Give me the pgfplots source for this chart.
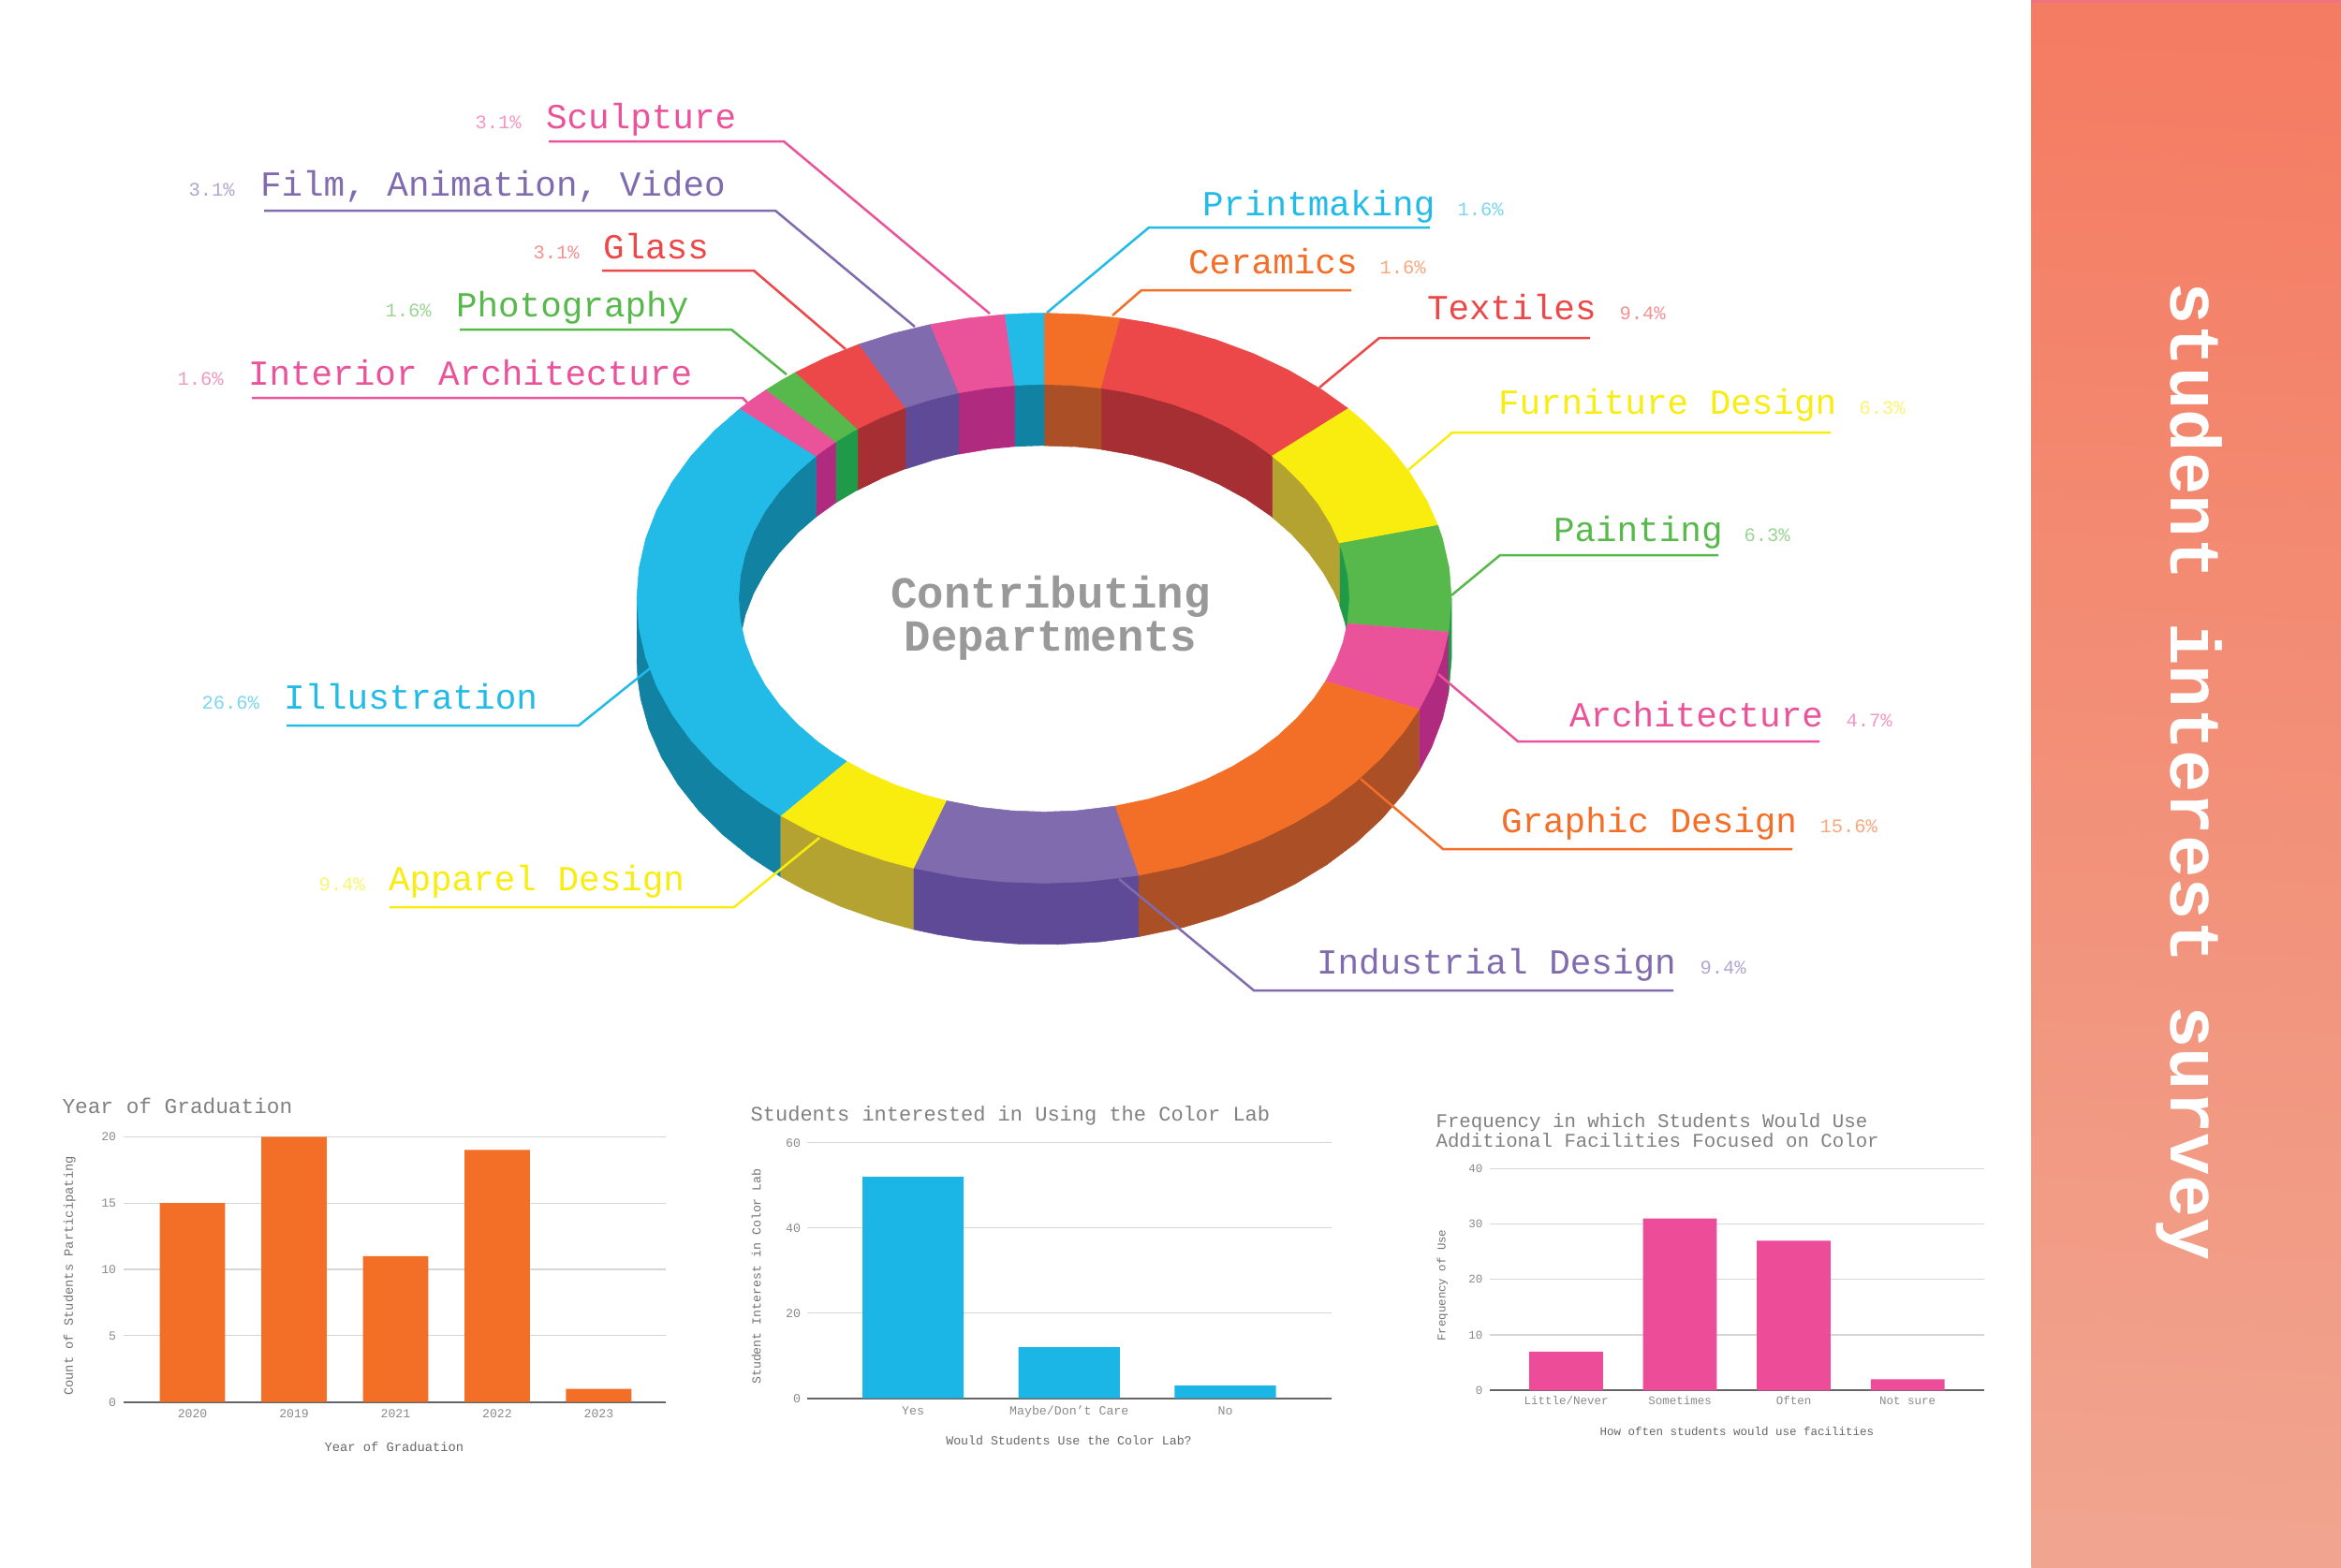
\documentclass[border=0pt]{standalone}
\usepackage{fontspec}
\setmainfont{Liberation Mono}
\usepackage{pgfplots}
\pgfplotsset{compat=1.18}

% 1 px of the reference = 0.4pt here
\definecolor{cOrange}{HTML}{F36E27}\definecolor{wOrange}{HTML}{AA4F26}
\definecolor{cRed}{HTML}{EC4849}\definecolor{wRed}{HTML}{A62F33}
\definecolor{cYellow}{HTML}{F9ED10}\definecolor{wYellow}{HTML}{B4A331}
\definecolor{cGreen}{HTML}{57B94B}\definecolor{wGreen}{HTML}{1F9A48}
\definecolor{cPink}{HTML}{EA539A}\definecolor{wPink}{HTML}{B02A80}
\definecolor{cPurple}{HTML}{806BAF}\definecolor{wPurple}{HTML}{5E4A97}
\definecolor{cBlue}{HTML}{22BBE7}\definecolor{wBlue}{HTML}{1282A2}
\definecolor{barBlue}{HTML}{1BB6E6}\definecolor{barPink}{HTML}{ED4C98}
\definecolor{titleGray}{HTML}{808080}\definecolor{tickGray}{HTML}{8A8A8A}
\definecolor{panelTop}{HTML}{F47C62}\definecolor{panelMid}{HTML}{F38E78}\definecolor{panelBot}{HTML}{F1A48F}
\definecolor{panelEdge}{HTML}{EE7280}

% ring: top face slices are (angle,radius), side walls are angle radius depth
\newcommand\face[2]{\addplot[fill=#1,draw=#1,line width=.2pt,data cs=polar] coordinates {#2};}
\newcommand\wall[2]{\addplot[fill=#1,draw=#1,line width=.2pt] table[row sep=\\,
  x expr={\thisrow{r}*cos(\thisrow{a})},y expr={\thisrow{r}*sin(\thisrow{a})-\thisrow{z}}] {a r z\\ #2};}

% department label: colour, name, x, baseline, percent, percent x
\newcommand\dept[6]{%
  \node[anchor=base west,inner sep=0,text=#1,font=\fontsize{15.05}{16}\selectfont] at (axis cs:#3,#4) {#2};
  \node[anchor=base west,inner sep=0,text=#1!60!white,font=\fontsize{8.2}{9}\selectfont] at (axis cs:#6,#4) {#5\%};}
\newcommand\leader[2]{\addplot[color=#1,line width=1pt] coordinates {#2};}

\pgfplotsset{barchart/.style={
  scale only axis, ybar, bar shift=0pt, ymin=0,
  axis lines=left, axis line style={-},
  y axis line style={draw=none}, x axis line style={draw=black!60,line width=.8pt},
  major tick length=0pt, xtick=data,
  ymajorgrids, grid style={black!16,line width=.5pt},
  /pgf/number format/assume math mode=true,
  tick label style={inner sep=0pt,text=tickGray},
  xticklabel style={text height=4pt},
  every axis title shift=0pt,
  title style={anchor=base west,inner sep=0pt,text=titleGray},
  xlabel style={anchor=base,inner sep=0pt,text=black!60},
  ylabel style={anchor=base,inner sep=0pt,text=black!55},
}}

\begin{document}
\begin{tikzpicture}
\path[use as bounding box,fill=white] (0pt,0pt) rectangle (1000pt,669.6pt);

% side panel
\begin{axis}[at={(0pt,0pt)},anchor=south west,scale only axis,width=1000pt,height=669.6pt,
  xmin=0,xmax=2500,ymin=0,ymax=1674,y dir=reverse,hide axis,clip=false]
\addplot[draw=none,top color=panelTop,middle color=panelMid,bottom color=panelBot,shading angle=-3] coordinates {(2169.3,0)(2500,0)(2500,1674)(2169.3,1674)};
\addplot[draw=none,fill=panelEdge] coordinates {(2169.3,0)(2500,0)(2500,3)(2169.3,3)};
\end{axis}

% ring
\begin{axis}[at={(272pt,255.66pt)},anchor=south west,scale only axis,width=348pt,height=292.32pt,
  xmin=-1,xmax=1,ymin=-1.3,ymax=1.1,hide axis,clip=false]
% outer walls
\wall{wBlue}{180 1 0\\ 229.7 1 0\\ 229.7 1 .215\\ 224 1 .215\\ 218 1 .215\\ 212 1 .215\\ 206 1 .215\\ 200 1 .215\\ 194 1 .215\\ 188 1 .215\\ 184 1 .215\\ 180 1 .215\\}
\wall{wYellow}{229.7 1 0\\ 251.3 1 0\\ 251.3 1 .215\\ 246 1 .215\\ 240 1 .215\\ 234 1 .215\\ 229.7 1 .215\\}
\wall{wPurple}{251.3 1 0\\ 283.4 1 0\\ 283.4 1 .215\\ 278 1 .215\\ 272 1 .215\\ 266 1 .215\\ 260 1 .215\\ 255 1 .215\\ 251.3 1 .215\\}
\wall{wOrange}{283.4 1 0\\ 337.1 1 0\\ 337.1 1 .215\\ 332 1 .215\\ 326 1 .215\\ 320 1 .215\\ 314 1 .215\\ 308 1 .215\\ 302 1 .215\\ 296 1 .215\\ 290 1 .215\\ 283.4 1 .215\\}
\wall{wPink}{337.1 1 0\\ 353.2 1 0\\ 353.2 1 .215\\ 348 1 .215\\ 342 1 .215\\ 337.1 1 .215\\}
\wall{wGreen}{353.2 1 0\\ 360 1 0\\ 360 1 .215\\ 353.2 1 .215\\}
% inner walls
\wall{wGreen}{0 .75 .215\\ 0 .75 0\\ 0 .9 0\\ 14.8 .9 0\\ 14.8 .75 0\\ 14.8 .75 .215\\ 10 .75 .215\\ 5 .75 .215\\}
\wall{wYellow}{14.8 .75 .215\\ 14.8 .75 0\\ 14.8 .9 0\\ 41.7 .9 0\\ 41.7 .75 0\\ 41.7 .75 .215\\ 36 .75 .215\\ 30 .75 .215\\ 24 .75 .215\\ 19 .75 .215\\}
\wall{wRed}{41.7 .75 .215\\ 41.7 .75 0\\ 41.7 .9 0\\ 79.2 .9 0\\ 79.2 .75 0\\ 79.2 .75 .215\\ 73 .75 .215\\ 67 .75 .215\\ 61 .75 .215\\ 55 .75 .215\\ 49 .75 .215\\}
\wall{wOrange}{79.2 .75 .215\\ 79.2 .75 0\\ 79.2 .9 0\\ 90 .9 0\\ 90 .75 0\\ 90 .75 .215\\ 84.6 .75 .215\\}
\wall{wBlue}{90 .75 .215\\ 90 .75 0\\ 90 .9 0\\ 95.5 .9 0\\ 95.5 .75 0\\ 95.5 .75 .215\\}
\wall{wPink}{95.5 .75 .215\\ 95.5 .75 0\\ 95.5 .9 0\\ 106.2 .9 0\\ 106.2 .75 0\\ 106.2 .75 .215\\ 100.8 .75 .215\\}
\wall{wPurple}{106.2 .75 .215\\ 106.2 .75 0\\ 106.2 .9 0\\ 117 .9 0\\ 117 .75 0\\ 117 .75 .215\\ 111.6 .75 .215\\}
\wall{wRed}{117 .75 .215\\ 117 .75 0\\ 117 .9 0\\ 127.6 .9 0\\ 127.6 .75 0\\ 127.6 .75 .215\\ 122.3 .75 .215\\}
\wall{wGreen}{127.6 .75 .215\\ 127.6 .75 0\\ 127.6 .9 0\\ 133 .9 0\\ 133 .75 0\\ 133 .75 .215\\}
\wall{wPink}{133 .75 .215\\ 133 .75 0\\ 133 .9 0\\ 138.3 .9 0\\ 138.3 .75 0\\ 138.3 .75 .215\\}
\wall{wBlue}{138.3 .75 .215\\ 138.3 .75 0\\ 138.3 .9 0\\ 180 .9 0\\ 180 .75 0\\ 180 .75 .215\\ 174 .75 .215\\ 168 .75 .215\\ 162 .75 .215\\ 156 .75 .215\\ 150 .75 .215\\ 144 .75 .215\\}
% top face, clockwise from twelve o'clock
\face{cOrange}{(79.2,1)(84.6,1)(90,1)(90,.75)(84.6,.75)(79.2,.75)}
\face{cRed}{(41.7,1)(47,1)(53,1)(59,1)(65,1)(71,1)(75,1)(79.2,1)(79.2,.75)(75,.75)(71,.75)(65,.75)(59,.75)(53,.75)(47,.75)(41.7,.75)}
\face{cYellow}{(14.8,1)(20,1)(26,1)(32,1)(38,1)(41.7,1)(41.7,.75)(38,.75)(32,.75)(26,.75)(20,.75)(14.8,.75)}
\face{cGreen}{(-6.8,1)(0,1)(6,1)(12,1)(14.8,1)(14.8,.75)(12,.75)(6,.75)(0,.75)(-6.8,.75)}
\face{cPink}{(-22.9,1)(-17,1)(-12,1)(-6.8,1)(-6.8,.75)(-12,.75)(-17,.75)(-22.9,.75)}
\face{cOrange}{(-76.6,1)(-70,1)(-64,1)(-58,1)(-52,1)(-46,1)(-40,1)(-34,1)(-28,1)(-22.9,1)(-22.9,.75)(-28,.75)(-34,.75)(-40,.75)(-46,.75)(-52,.75)(-58,.75)(-64,.75)(-70,.75)(-76.6,.75)}
\face{cPurple}{(-108.7,1)(-102,1)(-96,1)(-90,1)(-84,1)(-76.6,1)(-76.6,.75)(-84,.75)(-90,.75)(-96,.75)(-102,.75)(-108.7,.75)}
\face{cYellow}{(-130.3,1)(-125,1)(-119,1)(-113,1)(-108.7,1)(-108.7,.75)(-113,.75)(-119,.75)(-125,.75)(-130.3,.75)}
\face{cBlue}{(-221.7,1)(-216,1)(-210,1)(-204,1)(-198,1)(-192,1)(-186,1)(-180,1)(-174,1)(-168,1)(-162,1)(-156,1)(-150,1)(-144,1)(-138,1)(-134,1)(-130.3,1)(-130.3,.75)(-134,.75)(-138,.75)(-144,.75)(-150,.75)(-156,.75)(-162,.75)(-168,.75)(-174,.75)(-180,.75)(-186,.75)(-192,.75)(-198,.75)(-204,.75)(-210,.75)(-216,.75)(-221.7,.75)}
\face{cPink}{(133,1)(135.7,1)(138.3,1)(138.3,.75)(135.7,.75)(133,.75)}
\face{cGreen}{(127.6,1)(130.3,1)(133,1)(133,.75)(130.3,.75)(127.6,.75)}
\face{cRed}{(117,1)(122.3,1)(127.6,1)(127.6,.75)(122.3,.75)(117,.75)}
\face{cPurple}{(106.2,1)(111.6,1)(117,1)(117,.75)(111.6,.75)(106.2,.75)}
\face{cPink}{(95.5,1)(100.8,1)(106.2,1)(106.2,.75)(100.8,.75)(95.5,.75)}
\face{cBlue}{(90,1)(92.7,1)(95.5,1)(95.5,.75)(92.7,.75)(90,.75)}
\end{axis}

% labels and leaders, in reference pixels
\begin{axis}[at={(0pt,0pt)},anchor=south west,scale only axis,width=1000pt,height=669.6pt,
  xmin=0,xmax=2500,ymin=0,ymax=1674,y dir=reverse,hide axis,clip=false]
\leader{cPink}{(586,151)(837,151)(1057,335)}
\leader{cPurple}{(282,225)(828,225)(977,349)}
\leader{cRed}{(643,289)(805,289)(903,373)}
\leader{cGreen}{(491,352)(781,352)(840,400)}
\leader{cPink}{(269,425)(793,425)(798,430)}
\leader{cBlue}{(1527,243)(1227,243)(1118,334)}
\leader{cOrange}{(1443,310)(1219,310)(1188,337)}
\leader{cRed}{(1698,361)(1473,361)(1409,414)}
\leader{cYellow}{(1955,462)(1551,462)(1504,502)}
\leader{cGreen}{(1835,593)(1602,593)(1550,636)}
\leader{cPink}{(1943,792)(1621,792)(1536,720)}
\leader{cOrange}{(1914,907)(1541,907)(1453,832)}
\leader{cPurple}{(1787,1058)(1339,1058)(1195,939)}
\leader{cYellow}{(416,969)(784,969)(875,895)}
\leader{cBlue}{(306,775)(618,775)(694,714)}
\dept{cPink}{Sculpture}{582.5}{137}{3.1}{507}
\dept{cPurple}{Film, Animation, Video}{277.5}{209}{3.1}{201}
\dept{cRed}{Glass}{643.5}{276}{3.1}{569}
\dept{cGreen}{Photography}{486.5}{338.5}{1.6}{411}
\dept{cPink}{Interior Architecture}{264.5}{411}{1.6}{189}
\dept{cBlue}{Printmaking}{1283.5}{230}{1.6}{1556}
\dept{cOrange}{Ceramics}{1268.5}{292}{1.6}{1473}
\dept{cRed}{Textiles}{1523.5}{341}{9.4}{1729}
\dept{cYellow}{Furniture Design}{1599.5}{442}{6.3}{1985}
\dept{cGreen}{Painting}{1658.5}{578}{6.3}{1862}
\dept{cPink}{Architecture}{1675.5}{776}{4.7}{1971}
\dept{cOrange}{Graphic Design}{1602.5}{889}{15.6}{1943}
\dept{cPurple}{Industrial Design}{1405.5}{1040}{9.4}{1815}
\dept{cYellow}{Apparel Design}{414.5}{951}{9.4}{340}
\dept{cBlue}{Illustration}{302.5}{757}{26.6}{215}
\node[inner sep=0,text=black!40,font=\bfseries\fontsize{18.95}{19}\selectfont,anchor=base] at (axis cs:1122,649) {Contributing};
\node[inner sep=0,text=black!40,font=\bfseries\fontsize{18.95}{19}\selectfont,anchor=base] at (axis cs:1122,695) {Departments};
\node[rotate=-90,anchor=base west,inner sep=0,text=white,font=\bfseries\fontsize{30.3}{32}\selectfont] at (axis cs:2318,301) {student interest survey};
\end{axis}

% Year of Graduation
\begin{axis}[barchart,at={(52.72pt,70.52pt)},anchor=south west,width=231.68pt,height=113.36pt,
  xmin=-0.68,xmax=4.66,ymax=20,ytick={0,5,10,15,20},bar width=0.644,
  xticklabels={2020,2019,2021,2022,2023},
  xticklabel shift=2.4pt,yticklabel shift=2.9pt,
  tick label style={font=\fontsize{5.25}{6}\selectfont},
  title={Year of Graduation},
  title style={at={(axis description cs:-.1136,1.088)},font=\fontsize{9.1}{10}\selectfont},
  xlabel={Year of Graduation},
  xlabel style={at={(axis description cs:.4993,-.187)},font=\fontsize{5.5}{6}\selectfont},
  ylabel={Count of Students Participating},
  ylabel style={at={(axis description cs:-.0929,.4753)},font=\fontsize{5.5}{6}\selectfont}]
\addplot[draw=none,fill=cOrange] coordinates {(0,15)(1,20)(2,11)(3,19)(4,1)};
\end{axis}

% Students interested in Using the Color Lab
\begin{axis}[barchart,at={(344.92pt,72.12pt)},anchor=south west,width=223.76pt,height=109.2pt,
  xmin=-0.676,xmax=2.679,ymax=60,ytick={0,20,40,60},bar width=0.648,
  xticklabels={Yes,Maybe/Don't Care,No},
  xticklabel shift=3pt,yticklabel shift=2.7pt,
  tick label style={font=\fontsize{5.3}{6}\selectfont},
  title={Students interested in Using the Color Lab},
  title style={at={(axis description cs:-.1092,1.0857)},font=\fontsize{8.8}{10}\selectfont},
  xlabel={Would Students Use the Color Lab?},
  xlabel style={at={(axis description cs:.4991,-.1842)},font=\fontsize{5.3}{6}\selectfont},
  ylabel={Student Interest in Color Lab},
  ylabel style={at={(axis description cs:-.0892,.4769)},font=\fontsize{5.3}{6}\selectfont}]
\addplot[draw=none,fill=barBlue] coordinates {(0,52)(1,12)(2,3)};
\end{axis}

% Frequency of use
\begin{axis}[barchart,at={(636.44pt,75.48pt)},anchor=south west,width=211.16pt,height=94.8pt,
  xmin=-0.67,xmax=3.674,ymax=40,ytick={0,10,20,30,40},bar width=0.648,
  xticklabels={Little/Never,Sometimes,Often,Not sure},
  xticklabel shift=2pt,yticklabel shift=2.9pt,
  tick label style={font=\fontsize{5}{6}\selectfont},
  title={Frequency in which Students Would Use\\Additional Facilities Focused on Color},
  title style={align=left,at={(axis description cs:-.11,1.0954)},font=\fontsize{8.3}{8.3}\selectfont},
  xlabel={How often students would use facilities},
  xlabel style={at={(axis description cs:.4999,-.2025)},font=\fontsize{5}{6}\selectfont},
  ylabel={Frequency of Use},
  ylabel style={at={(axis description cs:-.09,.4738)},font=\fontsize{4.95}{6}\selectfont}]
\addplot[draw=none,fill=barPink] coordinates {(0,7)(1,31)(2,27)(3,2)};
\end{axis}
\end{tikzpicture}
\end{document}
